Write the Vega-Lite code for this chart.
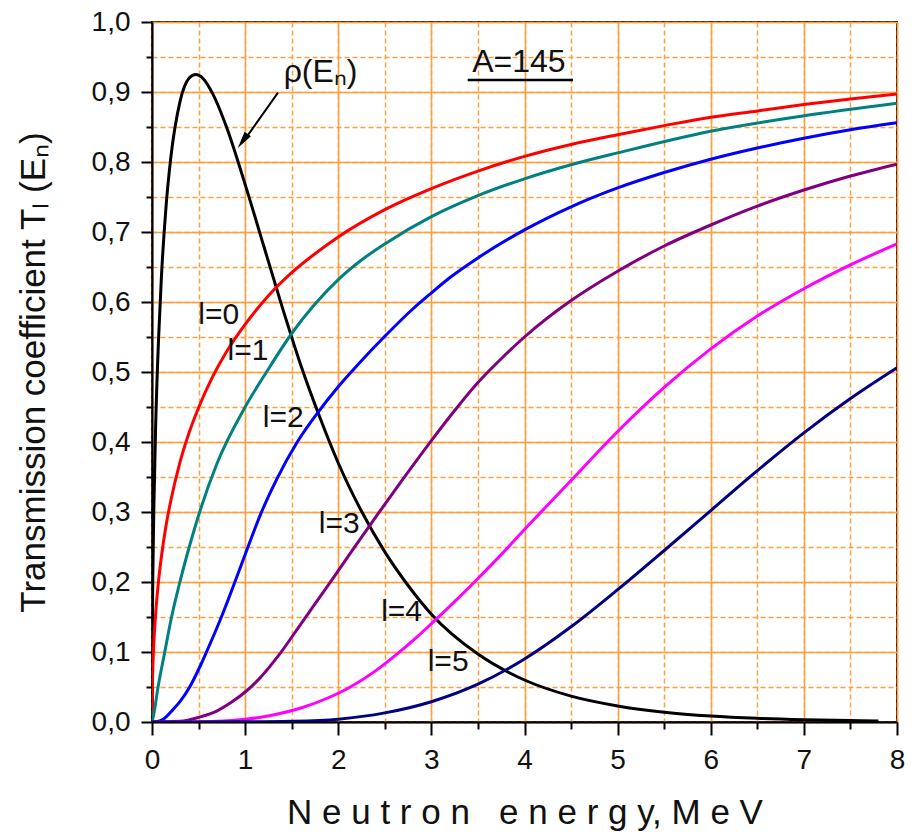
{
  "$schema": "https://vega.github.io/schema/vega-lite/v6.json",
  "width": 745,
  "height": 700,
  "autosize": {"type": "none"},
  "padding": {"left": 152, "top": 22, "right": 17, "bottom": 110},
  "background": "white",
  "config": {
    "view": {"stroke": "black", "strokeWidth": 2},
    "font": "Liberation Sans"
  },
  "datasets": {
    "curves": [
      {"E":0,"T":0,"s":"rho"},{"E":0.005,"T":0.157,"s":"rho"},{"E":0.01,"T":0.22,"s":"rho"},{"E":0.02,"T":0.308,"s":"rho"},{"E":0.04,"T":0.427,"s":"rho"},{"E":0.07,"T":0.546,"s":"rho"},{"E":0.1,"T":0.633,"s":"rho"},{"E":0.15,"T":0.735,"s":"rho"},{"E":0.2,"T":0.804,"s":"rho"},{"E":0.3,"T":0.886,"s":"rho"},{"E":0.4,"T":0.92,"s":"rho"},{"E":0.47,"T":0.925,"s":"rho"},{"E":0.55,"T":0.919,"s":"rho"},{"E":0.65,"T":0.898,"s":"rho"},{"E":0.8,"T":0.85,"s":"rho"},{"E":1.0,"T":0.768,"s":"rho"},{"E":1.2,"T":0.68,"s":"rho"},{"E":1.4,"T":0.592,"s":"rho"},{"E":1.6,"T":0.509,"s":"rho"},{"E":1.8,"T":0.436,"s":"rho"},{"E":2.0,"T":0.37,"s":"rho"},{"E":2.25,"T":0.301,"s":"rho"},{"E":2.5,"T":0.243,"s":"rho"},{"E":2.75,"T":0.195,"s":"rho"},{"E":3.0,"T":0.154,"s":"rho"},{"E":3.5,"T":0.097,"s":"rho"},{"E":4.0,"T":0.06,"s":"rho"},{"E":4.5,"T":0.037,"s":"rho"},{"E":5.0,"T":0.023,"s":"rho"},{"E":5.5,"T":0.014,"s":"rho"},{"E":6.0,"T":0.0085,"s":"rho"},{"E":6.5,"T":0.0052,"s":"rho"},{"E":7.0,"T":0.0032,"s":"rho"},{"E":7.5,"T":0.002,"s":"rho"},{"E":7.8,"T":0.0015,"s":"rho"},

      {"E":0,"T":0,"s":"l0"},{"E":0.005,"T":0.058,"s":"l0"},{"E":0.01,"T":0.081,"s":"l0"},{"E":0.02,"T":0.113,"s":"l0"},{"E":0.04,"T":0.156,"s":"l0"},{"E":0.07,"T":0.201,"s":"l0"},{"E":0.1,"T":0.235,"s":"l0"},{"E":0.15,"T":0.28,"s":"l0"},{"E":0.2,"T":0.315,"s":"l0"},{"E":0.3,"T":0.371,"s":"l0"},{"E":0.4,"T":0.414,"s":"l0"},{"E":0.5,"T":0.449,"s":"l0"},{"E":0.65,"T":0.493,"s":"l0"},{"E":0.8,"T":0.529,"s":"l0"},{"E":1.0,"T":0.568,"s":"l0"},{"E":1.25,"T":0.609,"s":"l0"},{"E":1.5,"T":0.642,"s":"l0"},{"E":1.75,"T":0.669,"s":"l0"},{"E":2.0,"T":0.693,"s":"l0"},{"E":2.5,"T":0.732,"s":"l0"},{"E":3.0,"T":0.762,"s":"l0"},{"E":3.5,"T":0.787,"s":"l0"},{"E":4.0,"T":0.808,"s":"l0"},{"E":4.5,"T":0.825,"s":"l0"},{"E":5.0,"T":0.839,"s":"l0"},{"E":5.5,"T":0.852,"s":"l0"},{"E":6.0,"T":0.864,"s":"l0"},{"E":6.5,"T":0.873,"s":"l0"},{"E":7.0,"T":0.882,"s":"l0"},{"E":7.5,"T":0.89,"s":"l0"},{"E":8.0,"T":0.897,"s":"l0"},

      {"E":0,"T":0,"s":"l1"},{"E":0.02,"T":0.012,"s":"l1"},{"E":0.065,"T":0.05,"s":"l1"},{"E":0.137,"T":0.10,"s":"l1"},{"E":0.21,"T":0.15,"s":"l1"},{"E":0.29,"T":0.195,"s":"l1"},{"E":0.40,"T":0.25,"s":"l1"},{"E":0.5,"T":0.295,"s":"l1"},{"E":0.7,"T":0.37,"s":"l1"},{"E":1.0,"T":0.45,"s":"l1"},{"E":1.23,"T":0.50,"s":"l1"},{"E":1.5,"T":0.555,"s":"l1"},{"E":1.75,"T":0.597,"s":"l1"},{"E":2.0,"T":0.632,"s":"l1"},{"E":2.25,"T":0.66,"s":"l1"},{"E":2.5,"T":0.683,"s":"l1"},{"E":3.0,"T":0.722,"s":"l1"},{"E":3.5,"T":0.752,"s":"l1"},{"E":4.0,"T":0.776,"s":"l1"},{"E":4.5,"T":0.796,"s":"l1"},{"E":5.0,"T":0.813,"s":"l1"},{"E":6.0,"T":0.844,"s":"l1"},{"E":7.0,"T":0.866,"s":"l1"},{"E":8.0,"T":0.884,"s":"l1"},

      {"E":0,"T":0,"s":"l2"},{"E":0.06,"T":0.0008,"s":"l2"},{"E":0.12,"T":0.004,"s":"l2"},{"E":0.22,"T":0.017,"s":"l2"},{"E":0.3,"T":0.029,"s":"l2"},{"E":0.405,"T":0.05,"s":"l2"},{"E":0.5,"T":0.075,"s":"l2"},{"E":0.585,"T":0.10,"s":"l2"},{"E":0.745,"T":0.15,"s":"l2"},{"E":0.89,"T":0.20,"s":"l2"},{"E":1.03,"T":0.25,"s":"l2"},{"E":1.17,"T":0.298,"s":"l2"},{"E":1.34,"T":0.347,"s":"l2"},{"E":1.56,"T":0.40,"s":"l2"},{"E":1.78,"T":0.442,"s":"l2"},{"E":2.0,"T":0.479,"s":"l2"},{"E":2.2,"T":0.509,"s":"l2"},{"E":2.5,"T":0.551,"s":"l2"},{"E":2.8,"T":0.59,"s":"l2"},{"E":3.0,"T":0.613,"s":"l2"},{"E":3.2,"T":0.635,"s":"l2"},{"E":3.5,"T":0.663,"s":"l2"},{"E":4.0,"T":0.703,"s":"l2"},{"E":4.5,"T":0.736,"s":"l2"},{"E":5.0,"T":0.763,"s":"l2"},{"E":5.5,"T":0.785,"s":"l2"},{"E":6.0,"T":0.804,"s":"l2"},{"E":6.5,"T":0.82,"s":"l2"},{"E":7.0,"T":0.834,"s":"l2"},{"E":7.5,"T":0.846,"s":"l2"},{"E":8.0,"T":0.856,"s":"l2"},

      {"E":0,"T":0,"s":"l3"},{"E":0.3,"T":0.001,"s":"l3"},{"E":0.51,"T":0.007,"s":"l3"},{"E":0.7,"T":0.016,"s":"l3"},{"E":0.84,"T":0.027,"s":"l3"},{"E":1.02,"T":0.045,"s":"l3"},{"E":1.16,"T":0.063,"s":"l3"},{"E":1.37,"T":0.097,"s":"l3"},{"E":1.63,"T":0.146,"s":"l3"},{"E":1.9,"T":0.197,"s":"l3"},{"E":2.16,"T":0.247,"s":"l3"},{"E":2.43,"T":0.298,"s":"l3"},{"E":2.7,"T":0.348,"s":"l3"},{"E":3.0,"T":0.402,"s":"l3"},{"E":3.25,"T":0.445,"s":"l3"},{"E":3.5,"T":0.485,"s":"l3"},{"E":3.75,"T":0.519,"s":"l3"},{"E":4.0,"T":0.55,"s":"l3"},{"E":4.5,"T":0.602,"s":"l3"},{"E":5.0,"T":0.644,"s":"l3"},{"E":5.5,"T":0.68,"s":"l3"},{"E":6.0,"T":0.71,"s":"l3"},{"E":6.5,"T":0.737,"s":"l3"},{"E":7.0,"T":0.76,"s":"l3"},{"E":7.5,"T":0.78,"s":"l3"},{"E":8.0,"T":0.797,"s":"l3"},

      {"E":0,"T":0,"s":"l4"},{"E":0.5,"T":0.0005,"s":"l4"},{"E":1.0,"T":0.004,"s":"l4"},{"E":1.3,"T":0.01,"s":"l4"},{"E":1.6,"T":0.02,"s":"l4"},{"E":1.9,"T":0.035,"s":"l4"},{"E":2.13,"T":0.05,"s":"l4"},{"E":2.4,"T":0.073,"s":"l4"},{"E":2.63,"T":0.097,"s":"l4"},{"E":2.85,"T":0.122,"s":"l4"},{"E":3.02,"T":0.143,"s":"l4"},{"E":3.25,"T":0.172,"s":"l4"},{"E":3.5,"T":0.205,"s":"l4"},{"E":3.77,"T":0.242,"s":"l4"},{"E":4.0,"T":0.275,"s":"l4"},{"E":4.5,"T":0.345,"s":"l4"},{"E":5.0,"T":0.415,"s":"l4"},{"E":5.5,"T":0.478,"s":"l4"},{"E":6.0,"T":0.533,"s":"l4"},{"E":6.5,"T":0.58,"s":"l4"},{"E":7.0,"T":0.619,"s":"l4"},{"E":7.5,"T":0.653,"s":"l4"},{"E":8.0,"T":0.683,"s":"l4"},

      {"E":0,"T":0,"s":"l5"},{"E":1.0,"T":0.0002,"s":"l5"},{"E":1.5,"T":0.001,"s":"l5"},{"E":2.0,"T":0.004,"s":"l5"},{"E":2.5,"T":0.013,"s":"l5"},{"E":3.0,"T":0.029,"s":"l5"},{"E":3.5,"T":0.054,"s":"l5"},{"E":4.0,"T":0.09,"s":"l5"},{"E":4.5,"T":0.136,"s":"l5"},{"E":5.0,"T":0.189,"s":"l5"},{"E":5.5,"T":0.245,"s":"l5"},{"E":6.0,"T":0.302,"s":"l5"},{"E":6.5,"T":0.359,"s":"l5"},{"E":7.0,"T":0.413,"s":"l5"},{"E":7.5,"T":0.462,"s":"l5"},{"E":8.0,"T":0.506,"s":"l5"}
    ],
    "labels": [
      {"E":0.716,"T":0.581,"t":"l=0"},
      {"E":1.03,"T":0.53,"t":"l=1"},
      {"E":1.41,"T":0.434,"t":"l=2"},
      {"E":2.01,"T":0.283,"t":"l=3"},
      {"E":2.68,"T":0.157,"t":"l=4"},
      {"E":3.18,"T":0.086,"t":"l=5"}
    ]
  },
  "resolve": {"axis": {"x": "independent", "y": "independent"}},
  "layer": [
    {
      "data": {"name": "curves"},
      "mark": {"type": "line", "interpolate": "monotone", "strokeWidth": 3, "clip": true},
      "encoding": {
        "x": {
          "field": "E", "type": "quantitative",
          "scale": {"domain": [0, 8], "nice": false, "zero": false},
          "axis": {
            "orient": "bottom",
            "title": "N e u t r o n\u00a0\u00a0 e n e r g y, M e V",
            "titleFont": "Liberation Sans", "titleFontSize": 35, "titleFontWeight": "normal", "titleColor": "#111",
            "titlePadding": 21,
            "values": [0,0.5,1,1.5,2,2.5,3,3.5,4,4.5,5,5.5,6,6.5,7,7.5,8],
            "labelExpr": "round(datum.value*2) % 2 === 0 ? format(datum.value, 'd') : ''",
            "labelFont": "Liberation Sans", "labelFontSize": 28, "labelColor": "#111",
            "labelFlush": false, "labelOverlap": false, "labelBound": false,
            "labelPadding": 11,
            "domainColor": "black", "domainWidth": 2,
            "tickColor": "black", "tickWidth": 2,
            "tickSize": {"condition": {"test": "round(datum.value*2) % 2 === 0", "value": 13}, "value": 7},
            "grid": true,
            "gridColor": "#ffa040", "gridWidth": 1.5, "gridOpacity": 1,
            "gridDash": [5, 3]
          }
        },
        "y": {
          "field": "T", "type": "quantitative",
          "scale": {"domain": [0, 1], "nice": false},
          "axis": {
            "orient": "left",
            "title": "Transmission coefficient Tₗ (Eₙ)",
            "titleFont": "Liberation Sans", "titleFontSize": 35, "titleFontWeight": "normal", "titleColor": "#111",
            "titlePadding": 40,
            "values": [0,0.05,0.1,0.15,0.2,0.25,0.3,0.35,0.4,0.45,0.5,0.55,0.6,0.65,0.7,0.75,0.8,0.85,0.9,0.95,1],
            "labelExpr": "round(datum.value*20) % 2 === 0 ? replace(format(datum.value, '.1f'), '.', ',') : ''",
            "labelFont": "Liberation Sans", "labelFontSize": 28, "labelColor": "#111",
            "labelFlush": false, "labelOverlap": false, "labelBound": false,
            "labelPadding": 11,
            "domainColor": "black", "domainWidth": 2,
            "tickColor": "black", "tickWidth": 2,
            "tickSize": {"condition": {"test": "round(datum.value*20) % 2 === 0", "value": 11}, "value": 6},
            "grid": true,
            "gridColor": "#ffa040", "gridWidth": 1.5, "gridOpacity": 1,
            "gridDash": [5, 3]
          }
        },
        "color": {
          "field": "s", "type": "nominal",
          "scale": {
            "domain": ["rho", "l0", "l1", "l2", "l3", "l4", "l5"],
            "range": ["#000000", "#ff0000", "#008080", "#0000ff", "#800080", "#ff00ff", "#000080"]
          },
          "legend": null
        },
        "strokeWidth": {
          "field": "s", "type": "nominal",
          "scale": {"domain": ["rho", "l0", "l1", "l2", "l3", "l4", "l5"], "range": [3.5, 3, 3, 3, 3, 3, 3]},
          "legend": null
        },
        "order": {"field": "E", "type": "quantitative"}
      }
    },
    {
      "data": {"name": "labels"},
      "mark": {"type": "text", "font": "Liberation Sans", "fontSize": 30, "align": "center", "baseline": "middle", "color": "#111"},
      "encoding": {
        "x": {
          "field": "E", "type": "quantitative",
          "axis": {
            "orient": "top", "title": null, "labels": false, "ticks": false, "domain": false,
            "values": [0,1,2,3,4,5,6,7,8],
            "grid": true, "gridColor": "#ffa040", "gridWidth": 1.5, "gridOpacity": 1
          }
        },
        "y": {
          "field": "T", "type": "quantitative",
          "axis": {
            "orient": "right", "title": null, "labels": false, "ticks": false, "domain": false,
            "values": [0,0.1,0.2,0.3,0.4,0.5,0.6,0.7,0.8,0.9,1],
            "grid": true, "gridColor": "#ffa040", "gridWidth": 1.5, "gridOpacity": 1
          }
        },
        "text": {"field": "t"}
      }
    },
    {
      "data": {"values": [{"x": 1.353, "y": 0.899, "x2": 0.985, "y2": 0.83}]},
      "mark": {"type": "rule", "color": "black", "strokeWidth": 2},
      "encoding": {
        "x": {"field": "x", "type": "quantitative", "axis": null},
        "y": {"field": "y", "type": "quantitative", "axis": null},
        "x2": {"field": "x2"},
        "y2": {"field": "y2"}
      }
    },
    {
      "data": {"values": [{"x": 0.975, "y": 0.83}]},
      "mark": {"type": "point", "shape": "M0,-1L0.45,1L-0.45,1Z", "filled": true, "color": "black", "size": 300, "angle": 215, "opacity": 1},
      "encoding": {
        "x": {"field": "x", "type": "quantitative", "axis": null},
        "y": {"field": "y", "type": "quantitative", "axis": null}
      }
    },
    {
      "data": {"values": [{"x": 3.39, "x2": 4.52, "y": 0.917}]},
      "mark": {"type": "rule", "color": "black", "strokeWidth": 2.5},
      "encoding": {
        "x": {"field": "x", "type": "quantitative", "axis": null},
        "x2": {"field": "x2"},
        "y": {"field": "y", "type": "quantitative", "axis": null}
      }
    },
    {
      "data": {"values": [{"x": 3.94, "y": 0.943, "t": "A=145"}, {"x": 1.81, "y": 0.929, "t": "ρ(Eₙ)"}]},
      "mark": {"type": "text", "font": "Liberation Sans", "fontSize": 32, "align": "center", "baseline": "middle", "color": "#111"},
      "encoding": {
        "x": {"field": "x", "type": "quantitative", "axis": null},
        "y": {"field": "y", "type": "quantitative", "axis": null},
        "text": {"field": "t"}
      }
    }
  ]
}
